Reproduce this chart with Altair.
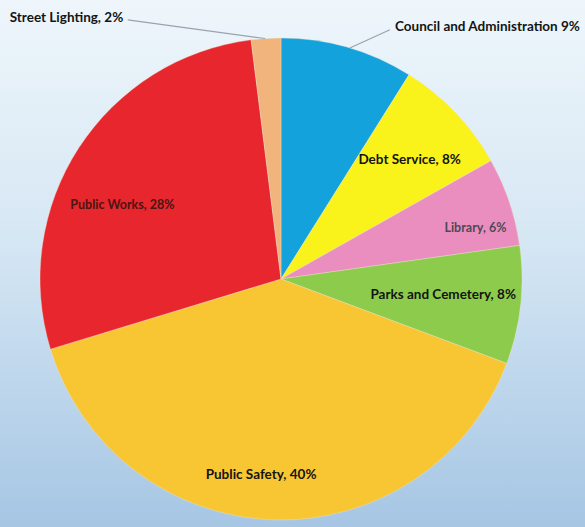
import math
import altair as alt
import pandas as pd

# ---- data ----
CATEGORIES = ["Council and Administration", "Debt Service", "Library",
              "Parks and Cemetery", "Public Safety", "Public Works", "Street Lighting"]
PERCENTS = [9, 8, 6, 8, 40, 28, 2]
LABELS = ["Council and Administration 9%", "Debt Service, 8%", "Library, 6%",
          "Parks and Cemetery, 8%", "Public Safety, 40%", "Public Works, 28%",
          "Street Lighting, 2%"]

# ---- styling / placement (not data) ----
COLORS = ["#14A2DD", "#F9F21B", "#EA8EC0", "#8DCB4C", "#F7C632", "#E7272D", "#F0B47C"]
TEXT_COLORS = ["#141414", "#141414", "#4e4a55", "#141414", "#141414", "#4a1512", "#141414"]
LABEL_ANGLE_DEG = [39.3, 47.3, 75.3, 95.6, 185.8, 295.0, 320.6]
LABEL_RADIUS = [326, 175, 201, 163, 197, 175, 338]
LABEL_SIZE = [13.5, 13.5, 12.5, 13.5, 13.5, 12.5, 13.5]
LEADER_A1 = [23.6, 329.4]
LEADER_R1 = [272, 301]
LEADER_A2 = [16.6, 356.2]
LEADER_R2 = [241, 241]

W, H = 585, 527
CX, CY = 281, 279
R = 241

pie_df = pd.DataFrame({"category": CATEGORIES, "value": PERCENTS,
                       "order": list(range(len(CATEGORIES)))})
lab_df = pd.DataFrame({"label": LABELS, "category": CATEGORIES,
                       "theta": [a * math.pi / 180 for a in LABEL_ANGLE_DEG],
                       "r": LABEL_RADIUS, "size": LABEL_SIZE})
lead_df = pd.DataFrame({"a1": LEADER_A1, "r1": LEADER_R1, "a2": LEADER_A2, "r2": LEADER_R2})

bg = alt.Chart(pd.DataFrame({"z": [0]})).mark_rect(
    fill=alt.Gradient(
        gradient="linear", x1=0, y1=0, x2=0, y2=1,
        stops=[alt.GradientStop(color="#EEF6FB", offset=0),
               alt.GradientStop(color="#D6E7F4", offset=0.45),
               alt.GradientStop(color="#A6C6E4", offset=1)]),
).encode(x=alt.value(0), x2=alt.value(W), y=alt.value(0), y2=alt.value(H))

pie = alt.Chart(pie_df).mark_arc(outerRadius=R, stroke="#f3e6d0", strokeWidth=0.6,
                                 strokeOpacity=0.6).encode(
    theta=alt.Theta("value:Q", stack=True),
    order=alt.Order("order:Q"),
    color=alt.Color("category:N", scale=alt.Scale(domain=CATEGORIES, range=COLORS), legend=None),
    x=alt.value(CX), y=alt.value(CY),
)

leaders = alt.Chart(lead_df).transform_calculate(
    x1=f"{CX} + datum.r1 * sin(datum.a1 * PI / 180)",
    y1=f"{CY} - datum.r1 * cos(datum.a1 * PI / 180)",
    x2=f"{CX} + datum.r2 * sin(datum.a2 * PI / 180)",
    y2=f"{CY} - datum.r2 * cos(datum.a2 * PI / 180)",
).mark_rule(color="#9aa3aa", strokeWidth=1.2).encode(
    x=alt.X("x1:Q", scale=None), y=alt.Y("y1:Q", scale=None),
    x2="x2:Q", y2="y2:Q",
)

text = alt.Chart(lab_df).mark_text(font="Lato", fontWeight="bold",
                                   align="center", baseline="middle").encode(
    theta=alt.Theta("theta:Q", scale=None),
    radius=alt.Radius("r:Q", scale=None),
    text="label:N",
    size=alt.Size("size:Q", scale=None),
    color=alt.Color("category:N", scale=alt.Scale(domain=CATEGORIES, range=TEXT_COLORS), legend=None),
    x=alt.value(CX), y=alt.value(CY),
)

chart = alt.layer(bg, pie, leaders, text).resolve_scale(color="independent").properties(
    width=W, height=H, padding=0, autosize=alt.AutoSizeParams(type="none")
).configure_view(stroke=None)

chart.save("out.html", embed_options={"renderer": "svg", "actions": False})
